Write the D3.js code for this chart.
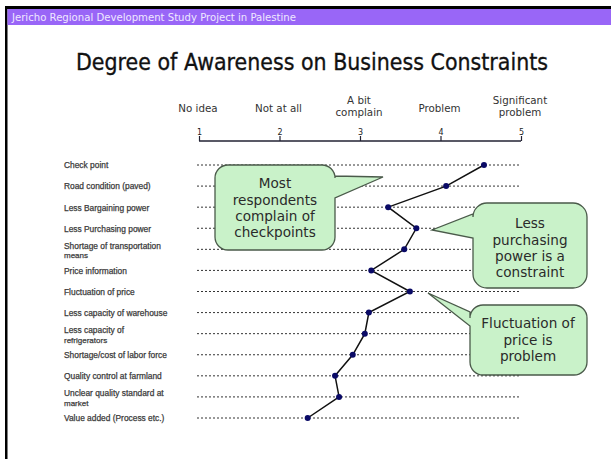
<!DOCTYPE html>
<html><head><meta charset="utf-8">
<script src="https://cdn.jsdelivr.net/npm/d3@7"></script>
<style>html,body{margin:0;padding:0;background:#fff;}svg{display:block;}</style>
</head><body>
<script>
const categories = ["Check point","Road condition (paved)","Less Bargaining power","Less Purchasing power","Shortage of transportation|means","Price information","Fluctuation of price","Less capacity of warehouse","Less capacity of|refrigerators","Shortage/cost of labor force","Quality control at farmland","Unclear quality standard at|market","Value added (Process etc.)"];
const values = [4.54,4.07,3.35,3.70,3.55,3.14,3.62,3.11,3.06,2.91,2.69,2.74,2.35];
const scaleTicks = [1,2,3,4,5];
const scaleLabels = ["No idea","Not at all","A bit|complain","Problem","Significant|problem"];
const callouts = [
  {lines:["Most","respondents","complain of","checkpoints"]},
  {lines:["Less","purchasing","power is a","constraint"]},
  {lines:["Fluctuation of","price is","problem"]}
];

const W=611,H=459;
const svg=d3.select("body").append("svg").attr("width",W).attr("height",H);
svg.append("rect").attr("width",W).attr("height",H).attr("fill","#fff");
// frame and header
svg.append("rect").attr("x",5).attr("y",6).attr("width",W-5).attr("height",3).attr("fill","#000");
svg.append("rect").attr("x",5).attr("y",6).attr("width",2.5).attr("height",H-6).attr("fill","#000");
svg.append("rect").attr("x",7.5).attr("y",9).attr("width",W-7.5).attr("height",16).attr("fill","#9966f7");
svg.append("text").attr("x",12).attr("y",21).attr("font-family","Verdana, DejaVu Sans, sans-serif").attr("font-size",10.5)
  .attr("fill","#efe8ff").attr("textLength",284).attr("lengthAdjust","spacingAndGlyphs")
  .text("Jericho Regional Development Study Project in Palestine");
svg.append("text").attr("x",76).attr("y",70).attr("font-family","DejaVu Sans, sans-serif").attr("font-size",22.5)
  .attr("fill","#111").attr("stroke","#111").attr("stroke-width",0.35).attr("textLength",472).attr("lengthAdjust","spacingAndGlyphs")
  .text("Degree of Awareness on Business Constraints");

const x=d3.scaleLinear().domain([1,5]).range([199,521]);
const y=d3.scalePoint().domain(categories).range([165,418]);

// scale labels
const sl=svg.append("g").attr("font-family","Verdana, DejaVu Sans, sans-serif").attr("font-size",10.3).attr("fill","#333").attr("text-anchor","middle");
scaleTicks.forEach((t,i)=>{
  const parts=scaleLabels[i].split("|");
  const tx=sl.append("text").attr("x",x(t)-1).attr("y",parts.length>1?104:112);
  parts.forEach((p,j)=>tx.append("tspan").attr("x",x(t)-1).attr("dy",j?12:0).text(p));
});
// axis
const axisG=svg.append("g").attr("transform","translate(0,141)");
axisG.call(d3.axisTop(x).tickValues(scaleTicks).tickSize(5).tickFormat(d3.format("d")));
axisG.select(".domain").attr("stroke","#223").attr("stroke-width",1.6).attr("d",`M${x(1)},0H${x(5)}`);
axisG.selectAll(".tick line").attr("stroke","#223").attr("stroke-width",1.2);
axisG.selectAll(".tick text").attr("font-family","Verdana, DejaVu Sans, sans-serif").attr("font-size",8).attr("fill","#222").attr("dy","0.3em");

// row labels
const rl=svg.append("g").attr("font-family","Liberation Sans, Arial, sans-serif").attr("font-size",8.4).attr("fill","#333").attr("stroke","#444").attr("stroke-width",0.25);
categories.forEach(c=>{
  const parts=c.split("|");
  if(parts.length>1){
    parts.forEach((p,j)=>rl.append("text").attr("x",64).attr("y",y(c)-0.5+j*9.6).attr("font-size",j?8:8.4).text(p));
  } else {
    rl.append("text").attr("x",64).attr("y",y(c)+3.4).text(c);
  }
});
// dotted lines
svg.append("g").selectAll("line").data(categories).join("line")
  .attr("x1",197).attr("x2",520).attr("y1",d=>y(d)).attr("y2",d=>y(d))
  .attr("stroke","#333").attr("stroke-width",1).attr("stroke-dasharray","2,2");

function calloutPath(bx,by,bw,bh,r,side,b1,b2,tip){
  const R=bx+bw,B=by+bh;
  let p=`M${bx+r},${by}H${R-r}A${r},${r} 0 0 1 ${R},${by+r}`;
  if(side==="right") p+=`V${b1}L${tip[0]},${tip[1]}L${R},${b2}`;
  p+=`V${B-r}A${r},${r} 0 0 1 ${R-r},${B}H${bx+r}A${r},${r} 0 0 1 ${bx},${B-r}`;
  if(side==="left") p+=`V${b2}L${tip[0]},${tip[1]}L${bx},${b1}`;
  p+=`V${by+r}A${r},${r} 0 0 1 ${bx+r},${by}Z`;
  return p;
}
const geo=[
  {bx:215,by:165,bw:120,bh:85,r:13,side:"right",b1:176,b2:198,tip:[383,177],cx:275,ty:[188,205,221,237]},
  {bx:473,by:203,bw:114,bh:85,r:14,side:"left",b1:214,b2:238,tip:[432,230],cx:530,ty:[228,245,261,277]},
  {bx:470,by:305,bw:117,bh:70,r:13,side:"left",b1:312,b2:326,tip:[428,293],cx:528,ty:[328,345,361]}
];

// line + points
const lineG=svg.append("g");
lineG.append("path").datum(values).attr("fill","none").attr("stroke","#111").attr("stroke-width",1.5)
  .attr("d",d3.line().x(d=>x(d)).y((d,i)=>y(categories[i])));
lineG.selectAll("circle").data(values).join("circle")
  .attr("cx",d=>x(d)).attr("cy",(d,i)=>y(categories[i])).attr("r",3).attr("fill","#0a0a66");

const cg=svg.append("g");
callouts.forEach((c,i)=>{
  const g=geo[i];
  cg.append("path").attr("d",calloutPath(g.bx,g.by,g.bw,g.bh,g.r,g.side,g.b1,g.b2,g.tip))
    .attr("fill","#c9f2c9").attr("stroke","#4a5a4a").attr("stroke-width",1.3);
  c.lines.forEach((l,j)=>cg.append("text").attr("x",g.cx).attr("y",g.ty[j]).attr("text-anchor","middle")
    .attr("font-family","Verdana, DejaVu Sans, sans-serif").attr("font-size",13.6).attr("fill","#2a2a2a").text(l));
});
</script>
</body></html>
